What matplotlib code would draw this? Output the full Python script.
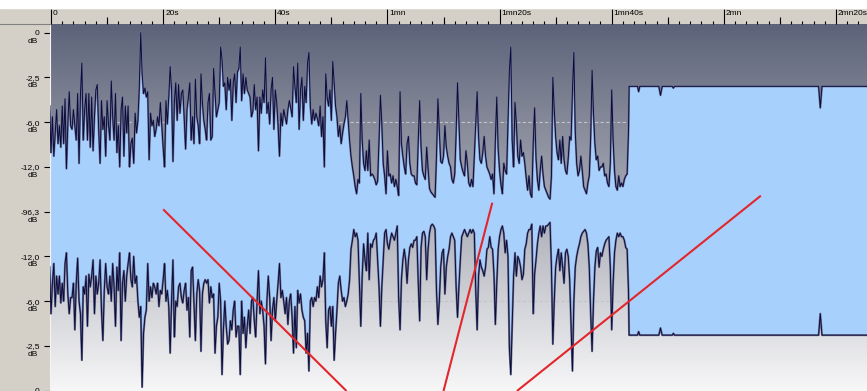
import numpy as np
import matplotlib.pyplot as plt
from matplotlib.colors import LinearSegmentedColormap
from matplotlib.ticker import MultipleLocator
from matplotlib.patches import Rectangle
from matplotlib.lines import Line2D

# peak level of each channel (% of full scale), one value every 0.25 s,
# read column by column off the editor view
step = 0.25
early_start = -0.25
late_start = 54.75

top_early = [
    59, 33, 53, 31, 44, 57, 38, 48, 36, 59, 38, 63, 24, 49, 67, 48, 46, 57, 48, 40,
    66, 27, 65, 83, 40, 57, 66, 40, 66, 36, 64, 34, 53, 68, 71, 46, 27, 62, 46, 53,
    31, 62, 49, 40, 73, 53, 40, 66, 33, 48, 25, 57, 64, 31, 59, 44, 59, 25, 38, 41,
    27, 55, 44, 51, 70, 100, 77, 66, 69, 64, 67, 29, 55, 48, 51, 42, 46, 53, 48, 61,
    48, 36, 25, 62, 49, 64, 81, 68, 28, 61, 72, 51, 71, 55, 66, 68, 53, 35, 57, 64,
    72, 40, 53, 38, 74, 53, 48, 38, 77, 61, 51, 46, 40, 61, 66, 40, 42, 80, 66, 53,
    57, 61, 92, 85, 70, 72, 57, 75, 68, 74, 51, 72, 77, 61, 78, 80, 92, 62, 77, 66,
    75, 68, 66, 64, 53, 56, 71, 57, 64, 34, 64, 55, 68, 61, 86, 55, 61, 49, 68, 75,
    46, 68, 61, 48, 31, 55, 48, 57, 53, 49, 57, 62, 58, 53, 81, 70, 61, 83, 46, 68,
    75, 51, 70, 61, 83, 89, 59, 49, 57, 51, 55, 52, 48, 59, 42, 53, 25, 77, 64, 59,
    68, 51, 84, 72, 59, 53, 42, 48, 38, 44, 49, 53, 62, 51, 40, 31, 25, 20, 14, 10,
]
top_late = [
    18, 16, 66, 40, 27, 23, 34, 23, 40, 20, 21, 20, 18, 15, 17, 40, 65, 49, 27, 20,
    10, 34, 20, 21, 16, 20, 14, 18, 14, 9, 67, 38, 31, 25, 21, 38, 42, 27, 21, 20,
    20, 16, 15, 40, 62, 36, 23, 20, 18, 36, 24, 13, 11, 10, 9, 8, 31, 63, 46, 28,
    27, 31, 48, 36, 31, 27, 25, 18, 16, 21, 44, 72, 50, 29, 25, 22, 20, 34, 27, 16,
    14, 18, 14, 31, 49, 67, 42, 29, 27, 33, 42, 31, 25, 23, 21, 18, 21, 10, 40, 64,
    35, 23, 15, 10, 27, 23, 21, 49, 79, 92, 40, 25, 61, 49, 31, 27, 40, 31, 33, 27,
    19, 12, 20, 10, 8, 38, 58, 30, 18, 12, 23, 31, 21, 14, 12, 10, 8, 7, 20, 75,
    57, 42, 33, 29, 40, 27, 42, 29, 23, 21, 30, 42, 40, 68, 89, 45, 27, 20, 23, 31,
    23, 14, 12, 10, 16, 20, 42, 79, 55, 38, 29, 31, 23, 25, 25, 27, 20, 21, 16, 14,
    27, 68, 40, 23, 14, 12, 20, 14, 16, 14, 18, 20, 21, 46,
]
bot_early = [
    31, 57, 40, 29, 53, 36, 46, 36, 51, 40, 50, 29, 23, 46, 57, 48, 48, 40, 66, 40,
    26, 50, 57, 83, 42, 46, 36, 64, 35, 42, 36, 27, 57, 36, 46, 40, 27, 55, 72, 44,
    29, 42, 46, 36, 50, 29, 42, 64, 31, 44, 23, 72, 40, 33, 50, 36, 29, 23, 38, 42,
    25, 40, 36, 50, 59, 53, 98, 68, 59, 55, 29, 50, 42, 48, 40, 42, 46, 40, 53, 44,
    46, 38, 29, 50, 44, 53, 79, 50, 27, 70, 50, 53, 42, 40, 48, 51, 44, 40, 55, 48,
    70, 33, 31, 51, 72, 46, 38, 44, 78, 46, 40, 38, 40, 38, 51, 42, 48, 46, 79, 64,
    59, 40, 50, 91, 66, 50, 64, 74, 72, 61, 66, 55, 50, 70, 64, 64, 91, 50, 68, 59,
    76, 64, 55, 68, 50, 48, 61, 70, 50, 33, 57, 50, 55, 64, 85, 50, 36, 48, 72, 55,
    48, 61, 50, 40, 29, 48, 44, 50, 57, 48, 63, 50, 46, 59, 79, 53, 76, 44, 51, 46,
    55, 59, 61, 79, 68, 89, 50, 48, 53, 48, 50, 42, 48, 36, 42, 38, 23, 61, 76, 55,
    53, 64, 53, 83, 68, 55, 40, 36, 44, 50, 48, 53, 50, 46, 38, 21, 16, 10, 14, 12,
]
bot_late = [
    16, 40, 64, 36, 18, 27, 33, 12, 38, 18, 20, 16, 15, 12, 27, 42, 64, 42, 27, 12,
    10, 18, 21, 16, 12, 14, 16, 12, 8, 48, 66, 38, 27, 21, 27, 40, 27, 20, 18, 20,
    16, 16, 14, 40, 61, 20, 12, 11, 14, 38, 21, 12, 8, 7, 8, 10, 44, 63, 50, 31,
    23, 21, 46, 31, 25, 21, 14, 12, 14, 16, 42, 59, 42, 27, 14, 12, 10, 12, 14, 12,
    10, 12, 10, 12, 44, 66, 36, 27, 31, 33, 36, 31, 21, 20, 14, 20, 21, 35, 63, 40,
    21, 14, 10, 8, 12, 23, 16, 25, 76, 91, 63, 36, 23, 36, 25, 27, 31, 38, 35, 21,
    18, 12, 10, 10, 7, 57, 35, 27, 18, 12, 8, 14, 8, 12, 8, 8, 7, 6, 31, 74,
    50, 31, 25, 21, 33, 23, 31, 40, 23, 21, 25, 38, 64, 89, 50, 31, 25, 21, 18, 14,
    12, 11, 10, 12, 18, 31, 57, 78, 50, 31, 22, 20, 31, 23, 25, 21, 18, 16, 15, 14,
    31, 66, 40, 23, 16, 12, 14, 12, 14, 14, 16, 20, 21, 45,
]

# from ~1mn43s the level sits flat, with a few small dips
tail_times = [103.1, 104.6, 104.8, 105.0, 108.4, 108.7, 109.0, 110.8, 111.0, 111.2,
              136.9, 137.2, 137.5, 146.0]
tail_top = [70, 70, 67, 70, 70, 65, 70, 70, 69, 70, 70, 58, 70, 70]
tail_bot = [69, 69, 67, 69, 69, 65, 69, 69, 68, 69, 69, 57, 69, 69]

ruler_secs = [0, 20, 40, 60, 80, 100, 120, 140]
ruler_labels = ['0', '20s', '40s', '1mn', '1mn20s', '1mn40s', '2mn', '2mn20s']
level_ticks = [100, 75, 50, 25, 0, -25, -50, -75, -100]
level_labels = ['0', '-2,5', '-6,0', '-12,0', '-96,3', '-12,0', '-6,0', '-2,5', '0']

# red pointer strokes drawn over the capture: (start, end) in (s, %)
pointers = [((20.0, 1.3), (52.7, -100.2)),
            ((78.7, 5.0), (70.0, -100.2)),
            ((126.6, 8.9), (83.1, -100.2))]

W, H = 867, 391
PX = 0.72  # points per pixel at 100 dpi
LEFT, TOP = 49.5, 23.5
XLIM = (-0.27, 145.53)
YLIM = (-100.2, 105.1)

plt.rcParams['font.family'] = ['Liberation Sans', 'DejaVu Sans']

fig = plt.figure(figsize=(W / 100, H / 100), dpi=100, facecolor='#d4d0c8')
fig.patches.append(Rectangle((0, 1 - 8 / H), 1, 8 / H, transform=fig.transFigure,
                             color='white', zorder=0))
fig.add_artist(Line2D([0, LEFT / W], [1 - TOP / H] * 2, color='#808080', lw=0.8))

ax = fig.add_axes([LEFT / W, 0, 1 - LEFT / W, 1 - TOP / H])
ax.set_xlim(*XLIM)
ax.set_ylim(*YLIM)

# background shading of the wave view
cmap = LinearSegmentedColormap.from_list('bg', ['#5c6379', '#a9abb5', '#f7f7f8'])
grad = np.linspace(0, 1, 256).reshape(-1, 1)
ax.imshow(grad, extent=[*XLIM, *YLIM], aspect='auto', cmap=cmap, origin='upper', zorder=0)

for lvl in (50, -50):
    ax.axhline(lvl, color='#c4c4c8', lw=0.8, ls=(0, (3, 2)), zorder=1)

t_early = early_start + step * np.arange(len(top_early))
t_late = late_start + step * np.arange(len(top_late))
t = np.concatenate([t_early, t_late, tail_times])
top = np.concatenate([top_early, top_late, tail_top])
bot = np.concatenate([bot_early, bot_late, tail_bot])

ax.fill_between(t, top, -bot, color='#a8d0fc', lw=0, zorder=2)
for y in (top, -bot):
    ax.plot(t, y, color='#6d7394', lw=1.5, zorder=3)
    ax.plot(t, y, color='#0c0c3a', lw=0.7, zorder=3)

for (x0, y0), (x1, y1) in pointers:
    ax.plot([x0, x1], [y0, y1], color='#e3262b', lw=1.5, zorder=5, solid_capstyle='butt')

# level scale on the left; the unit sits under each value
ax.set_yticks(level_ticks, level_labels)
ax.tick_params(axis='y', direction='out', length=4, width=0.8, pad=3, labelsize=6,
               colors='black')
for v in level_ticks[:-1]:
    ax.annotate('dB', xy=(0, v), xycoords=('axes fraction', 'data'),
                xytext=(-11 * PX, -8.5 * PX), textcoords='offset points',
                ha='right', va='center', fontsize=6, annotation_clip=False)

# time ruler on top
ax.xaxis.tick_top()
ax.set_xticks(ruler_secs)
ax.set_xticklabels([])
ax.xaxis.set_minor_locator(MultipleLocator(2))
ax.tick_params(axis='x', which='major', direction='out', length=15.5 * PX, width=0.8,
               color='black')
ax.tick_params(axis='x', which='minor', direction='out', length=3 * PX, width=0.8,
               color='black')
sec = ax.secondary_xaxis('top')
sec.set_xticks(np.arange(10, 146, 20))
sec.tick_params(direction='out', length=6 * PX, width=0.8, labeltop=False, color='black')
sec.spines['top'].set_visible(False)
for s, lab in zip(ruler_secs, ruler_labels):
    ax.annotate(lab, xy=(s, 1), xycoords=('data', 'axes fraction'),
                xytext=(2 * PX, 10 * PX), textcoords='offset points',
                ha='left', va='center', fontsize=6)

for side in ('top', 'right', 'bottom'):
    ax.spines[side].set_visible(False)
ax.spines['left'].set_color('#f4f4f4')
ax.spines['left'].set_linewidth(0.8)

fig.savefig('out.png', dpi=100, facecolor=fig.get_facecolor())
